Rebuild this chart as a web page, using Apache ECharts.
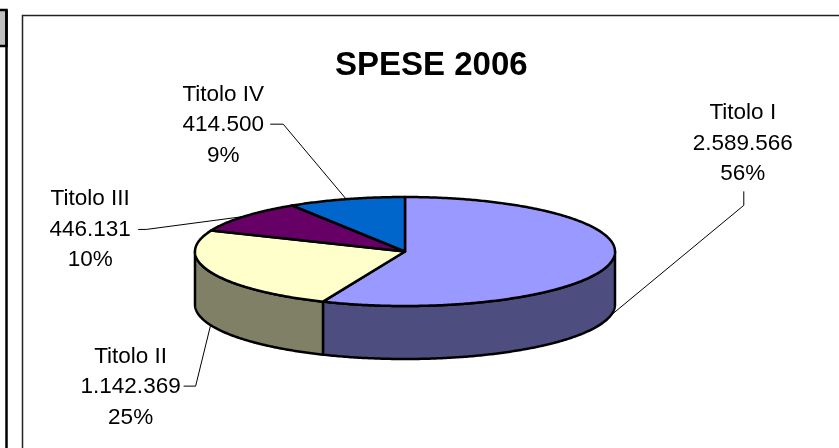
<!DOCTYPE html>
<html><head><meta charset="utf-8">
<script src="https://cdn.jsdelivr.net/npm/echarts@6/dist/echarts.min.js"></script>
<style>html,body{margin:0;padding:0;background:#fff}#c{width:839px;height:448px}</style>
</head><body><div id="c"></div>
<script>
// ---- data ----
const chartTitle = 'SPESE 2006';
const categories = ['Titolo I', 'Titolo II', 'Titolo III', 'Titolo IV'];
const values = [2589566, 1142369, 446131, 414500];
const topColors = ['#9999FF', '#FFFFCC', '#660066', '#0066CC'];
const sideColors = ['#4D4D80', '#808066', '#330033', '#003366'];

// ---- layout (not data) ----
const labelOffsets = [[132, -173], [-80, 61], [-154, 12], [-123, -75]];
const leaderStart = [[1, 49], [53, 0], [48, 1], [47, 0]];
const leaderElbow = [[1, 63], [65, 0], [56, 1], [60, 0]];
const cx = 405, cy = 251.5, rx = 210, ry = 54.5, depth = 53;
const FONT = '"Liberation Sans", Arial, sans-serif';

const total = values.reduce((a, b) => a + b, 0);
const fmt = v => String(v).replace(/\B(?=(\d{3})+(?!\d))/g, '.');
let acc = 0;
const sliceData = values.map((v, i) => {
  const s = acc / total; acc += v;
  return { value: [s, acc / total, v, i], name: categories[i] };
});

const chart = echarts.init(document.getElementById('c'), null, { renderer: 'canvas' });

function renderItem(params, api) {
  const i = params.dataIndex;
  const a0 = api.value(0) * 2 * Math.PI, a1 = api.value(1) * 2 * Math.PI;
  const v = api.value(2);
  const pt = (t, dy) => [cx + rx * Math.sin(t), cy - ry * Math.cos(t) + (dy || 0)];
  const children = [];
  const n = Math.max(2, Math.ceil((a1 - a0) / 0.01));
  const topPts = [[cx, cy]];
  for (let k = 0; k <= n; k++) topPts.push(pt(a0 + (a1 - a0) * k / n));
  children.push({ type: 'polygon', z2: 10, shape: { points: topPts },
    style: { fill: topColors[i], stroke: '#000', lineWidth: 2.5, lineJoin: 'round' } });
  const s0 = Math.max(a0, Math.PI / 2), s1 = Math.min(a1, 1.5 * Math.PI);
  if (s1 > s0) {
    const m = Math.max(2, Math.ceil((s1 - s0) / 0.01));
    const upper = [], lower = [];
    for (let k = 0; k <= m; k++) {
      const t = s0 + (s1 - s0) * k / m;
      upper.push(pt(t)); lower.push(pt(t, depth));
    }
    children.push({ type: 'polygon', z2: 1, shape: { points: upper.concat(lower.reverse()) },
      style: { fill: sideColors[i], stroke: '#000', lineWidth: 2.5, lineJoin: 'round' } });
  }
  // label + leader
  const mid = (a0 + a1) / 2;
  const anchor = pt(mid, Math.cos(mid) < 0 ? depth : 0);
  const tc = [anchor[0] + labelOffsets[i][0], anchor[1] + labelOffsets[i][1]];
  const pct = Math.round(v / total * 100) + '%';
  children.push({ type: 'polyline', z2: 20, shape: { points: [
      [tc[0] + leaderStart[i][0], tc[1] + leaderStart[i][1]],
      [tc[0] + leaderElbow[i][0], tc[1] + leaderElbow[i][1]], anchor] },
    style: { stroke: '#000', lineWidth: 1, fill: null } });
  children.push({ type: 'text', z2: 20, x: tc[0], y: tc[1] + 1,
    style: { text: categories[i] + '\n' + fmt(v) + '\n' + pct, align: 'center', verticalAlign: 'middle',
      font: '22.5px ' + FONT, lineHeight: 30.5, fill: '#000' } });
  return { type: 'group', children };
}

chart.setOption({
  animation: false,
  backgroundColor: '#fff',
  title: { text: chartTitle, left: 335, top: 49, padding: 0,
    textStyle: { fontSize: 33, fontWeight: 'bold', fontFamily: FONT, color: '#000' } },
  graphic: [
    { type: 'rect', shape: { x: 22.5, y: 15.5, width: 900, height: 600 }, style: { fill: null, stroke: '#222', lineWidth: 1.5 }, z: -1 },
    { type: 'rect', shape: { x: -5, y: 10, width: 11.5, height: 36 }, style: { fill: '#C0C0C0', stroke: '#000', lineWidth: 2.5 } },
    { type: 'line', shape: { x1: 6.5, y1: 10, x2: 6.5, y2: 460 }, style: { stroke: '#000', lineWidth: 2.5 } }
  ],
  series: [{ type: 'custom', coordinateSystem: 'none', renderItem, data: sliceData, silent: true }]
});
</script></body></html>
